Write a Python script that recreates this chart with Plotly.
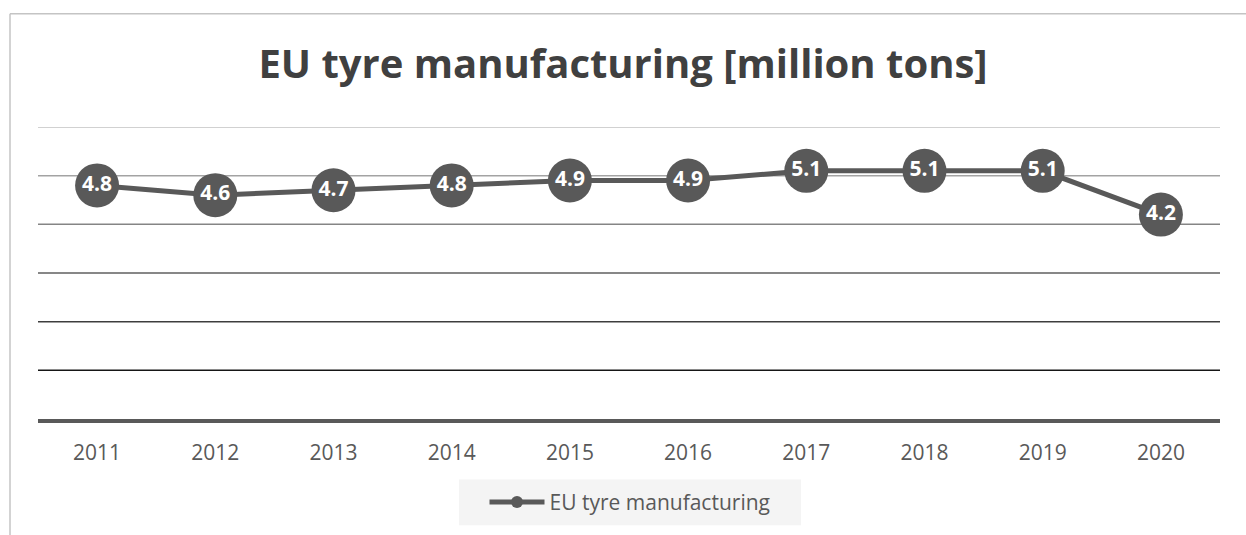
import plotly.graph_objects as go

# EU tyre manufacturing output, million tons
years = ["2011", "2012", "2013", "2014", "2015", "2016", "2017", "2018", "2019", "2020"]
output_mt = [4.8, 4.6, 4.7, 4.8, 4.9, 4.9, 5.1, 5.1, 5.1, 4.2]
grid_values = [1, 2, 3, 4, 5, 6]
grid_colors = ["#161616", "#3e3e3e", "#5f5f5f", "#858585", "#a3a3a3", "#c2c2c2"]

W, H = 1246, 535
ML, MR, MT, MB = 38, 26, 127, 114
PW, PH = W - ML - MR, H - MT - MB

DARK = "#595959"
FONT = "Open Sans"


def px_x(px):
    return (px - ML) / PW


def px_y(py):
    return (H - MB - py) / PH


fig = go.Figure()

fig.add_trace(go.Scatter(
    x=years,
    y=output_mt,
    mode="lines+markers+text",
    name="EU tyre manufacturing",
    line=dict(color=DARK, width=5),
    marker=dict(color=DARK, size=44),
    text=[f"{v:.1f}" for v in output_mt],
    textposition="middle center",
    textfont=dict(family=FONT, size=21, color="white", weight="bold"),
    cliponaxis=False,
))

# horizontal gridlines, shaded from dark (bottom) to light (top)
shapes = []
for v, c in zip(grid_values, grid_colors):
    shapes.append(dict(type="line", xref="paper", yref="y", x0=0, x1=1, y0=v, y1=v,
                       line=dict(color=c, width=1.5), layer="below"))

# chart frame (left and top edges)
fx, fy = px_x(10), px_y(13)
shapes.append(dict(type="line", xref="paper", yref="paper", x0=fx, x1=fx, y0=-1, y1=fy,
                   line=dict(color="#c4c4c4", width=1.5)))
shapes.append(dict(type="line", xref="paper", yref="paper", x0=fx, x1=1.2, y0=fy, y1=fy,
                   line=dict(color="#c4c4c4", width=1.5)))

# legend backing panel
shapes.append(dict(type="rect", xref="paper", yref="paper",
                   x0=px_x(459), x1=px_x(801), y0=px_y(528), y1=px_y(482),
                   fillcolor="#f4f4f4", line=dict(width=0), layer="below"))

fig.update_layout(
    width=W, height=H,
    margin=dict(l=ML, r=MR, t=MT, b=MB),
    paper_bgcolor="white",
    plot_bgcolor="white",
    shapes=shapes,
    title=dict(
        text="<b>EU tyre manufacturing [million tons]</b>",
        font=dict(family=FONT, size=40, color="#404040"),
        x=0.5, xanchor="center", xref="container",
        y=1 - 64 / H, yanchor="middle", yref="container",
    ),
    xaxis=dict(
        type="category",
        range=[-0.5, len(years) - 0.5],
        showgrid=False,
        showline=True, linecolor=DARK, linewidth=4,
        ticks="",
        tickfont=dict(family=FONT, size=21, color=DARK),
        ticklabelstandoff=12,
    ),
    yaxis=dict(
        range=[0, 6],
        dtick=1,
        showgrid=False,
        zeroline=False,
        showticklabels=False,
        showline=False,
    ),
    showlegend=True,
    legend=dict(
        orientation="h",
        x=px_x(630), xanchor="center",
        y=px_y(505), yanchor="middle",
        bgcolor="rgba(0,0,0,0)",
        font=dict(family=FONT, size=21, color=DARK),
        itemsizing="constant",
        itemwidth=55,
        borderwidth=0,
    ),
)

fig.write_html("out.html")
